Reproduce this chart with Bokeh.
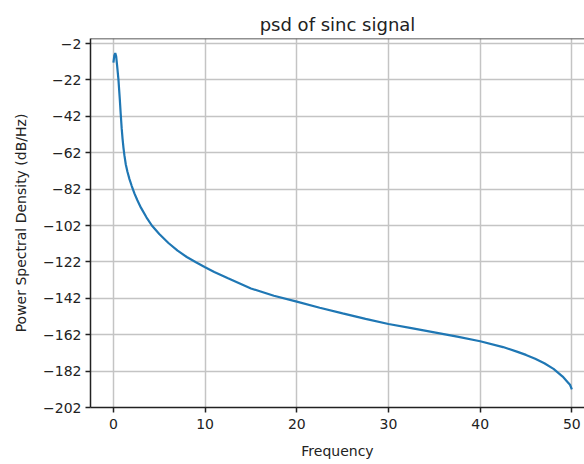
from bokeh.plotting import figure
from bokeh.models import FixedTicker, Range1d, Span
from bokeh.embed import file_html
from bokeh.resources import INLINE

# Power spectral density estimate of a sinc pulse (frequency in Hz, PSD in dB/Hz)
freq = [0, 0.1, 0.2, 0.3, 0.4, 0.55, 0.7, 0.8, 0.9, 1.0, 1.1, 1.2, 1.35, 1.53,
        1.75, 2.0, 2.3, 2.6, 3.0, 3.6, 4.19, 5, 6, 7, 8, 9, 10, 11, 12.5, 15,
        17.5, 20, 22.5, 25, 27.5, 30, 32.5, 35, 37.5, 40, 42.5, 44, 45, 46, 47,
        48, 49, 49.5, 49.8, 50]
psd_db = [-12.5, -8.5, -7.3, -9, -14, -22, -33, -41, -48.5, -54.5, -59.5, -63.5,
          -68.5, -72.5, -76.5, -80.3, -84.5, -88, -92.2, -97.5, -102, -106.7,
          -111.6, -115.8, -119.3, -122.2, -124.9, -127.5, -131, -136.6, -140.6,
          -143.8, -147.2, -150.3, -153.3, -156.1, -158.4, -160.7, -163.1,
          -165.6, -168.8, -171.3, -173.1, -175.2, -177.7, -180.8, -185, -187.8,
          -189.5, -192]

x_ticks = [0, 10, 20, 30, 40, 50]
y_ticks = [-2, -22, -42, -62, -82, -102, -122, -142, -162, -182, -202]

FONT = "DejaVu Sans"
INK = "#222222"

p = figure(width=584, height=464, output_backend="svg", toolbar_location=None,
           x_range=Range1d(-2.5, 51.38), y_range=Range1d(-202, 0.75),
           min_border_left=90, min_border_right=0, min_border_top=38,
           min_border_bottom=57, title="psd of sinc signal")

p.line(freq, psd_db, line_color="#1f77b4", line_width=2.2)

p.outline_line_color = None
p.background_fill_color = "white"
p.border_fill_color = "white"

p.title.align = "center"
p.title.text_font = FONT
p.title.text_font_size = "18px"
p.title.text_font_style = "normal"
p.title.text_color = INK
p.title.standoff = 8

for ax in (p.xaxis[0], p.yaxis[0]):
    ax.axis_line_color = INK
    ax.axis_line_width = 1.5
    ax.major_tick_line_color = INK
    ax.major_tick_line_width = 1.5
    ax.major_tick_in = 0
    ax.major_tick_out = 5
    ax.minor_tick_line_color = None
    ax.major_label_text_font = FONT
    ax.major_label_text_font_size = "14px"
    ax.major_label_text_color = INK
    ax.axis_label_text_font = FONT
    ax.axis_label_text_font_size = "14px"
    ax.axis_label_text_font_style = "normal"
    ax.axis_label_text_color = INK

p.xaxis.ticker = FixedTicker(ticks=x_ticks)
p.yaxis.ticker = FixedTicker(ticks=y_ticks)
p.yaxis.major_label_overrides = {t: str(t).replace("-", "\u2212") for t in y_ticks}
p.xaxis.axis_label = "Frequency"
p.yaxis.axis_label = "Power Spectral Density (dB/Hz)"
p.xaxis.major_label_standoff = 6
p.yaxis.major_label_standoff = 4
p.xaxis.axis_label_standoff = 11
p.yaxis.axis_label_standoff = 11

# top spine along the upper edge of the plotting area
p.add_layout(Span(location=p.y_range.end, dimension="width",
                  line_color=INK, line_width=1.5))

p.xgrid.grid_line_color = "#c4c4c4"
p.ygrid.grid_line_color = "#c4c4c4"
p.xgrid.grid_line_width = 1.5
p.ygrid.grid_line_width = 1.5

open("out.html", "w").write(file_html(p, INLINE))
